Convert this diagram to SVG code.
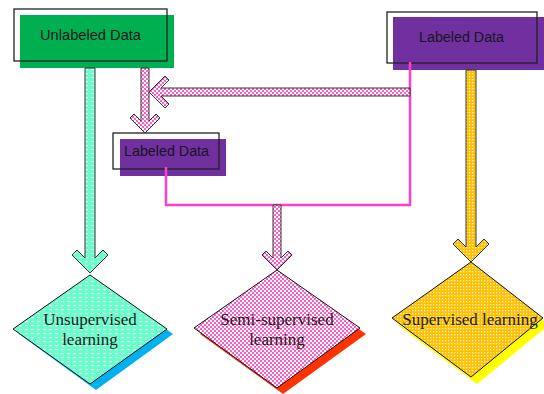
<svg xmlns="http://www.w3.org/2000/svg" width="544" height="394" viewBox="0 0 544 394">
<defs>
<pattern id="pAqua" width="6" height="4" patternUnits="userSpaceOnUse">
<rect width="6" height="4" fill="#66ffcc"/>
<rect x="1" y="1" width="3" height="1.2" fill="#e4efe8"/>
</pattern>
<pattern id="pPink" width="4" height="4" patternUnits="userSpaceOnUse">
<rect width="4" height="4" fill="#ffffff"/>
<rect width="2" height="2" fill="#ff5cc8"/>
<rect x="2" y="2" width="2" height="2" fill="#ff5cc8"/>
</pattern>
<pattern id="pOrange" width="3" height="3" patternUnits="userSpaceOnUse">
<rect width="3" height="3" fill="#ffc000"/>
<rect x="1" y="1" width="1.3" height="1.3" fill="#fff2cc"/>
</pattern>
</defs>
<style>
.box-out{fill:none;stroke:#222;stroke-width:1.3}
.lbl{font-family:"Liberation Sans",Arial,sans-serif;font-size:14px;fill:#1a1420;text-anchor:middle}
.dtxt{font-family:"Liberation Serif","Times New Roman",serif;font-size:17px;fill:#1a1a1a;text-anchor:middle}
.dia{stroke:#111;stroke-width:1}
.arr{stroke:#333;stroke-width:1;stroke-linejoin:miter}
.link{fill:none;stroke:#ff3fc8;stroke-width:2.5}
</style>

<g id="unlabeled-data">
<rect x="20" y="15" width="154" height="53" fill="#00b050"/>
<rect class="box-out" x="14" y="9" width="153" height="52"/>
<text class="lbl" x="90.5" y="40" textLength="101" lengthAdjust="spacingAndGlyphs">Unlabeled Data</text>
</g>

<g id="labeled-data-top">
<rect x="393" y="17" width="151" height="53" fill="#7030a0"/>
<rect class="box-out" x="387" y="12" width="150" height="51"/>
<text class="lbl" x="461.5" y="42" textLength="85" lengthAdjust="spacingAndGlyphs">Labeled Data</text>
</g>

<g id="labeled-data-mid">
<rect x="120" y="139" width="106" height="37" fill="#7030a0"/>
<rect class="box-out" x="113" y="133" width="106" height="36"/>
<text class="lbl" x="166.5" y="156" textLength="85" lengthAdjust="spacingAndGlyphs">Labeled Data</text>
</g>

<g id="unsupervised">
<polygon points="96,280 173,334 96,390 19,334" fill="#00b0f0"/>
<polygon class="dia" points="90,275 167,329 90,384 13,329" fill="url(#pAqua)"/>
<text class="dtxt" x="90" y="325">Unsupervised</text>
<text class="dtxt" x="90" y="345">learning</text>
</g>

<g id="semi-supervised">
<polygon points="283,276 366,334 283,394 200,334" fill="#ff3300"/>
<polygon class="dia" points="277,270 360,328 277,388 194,328" fill="url(#pPink)"/>
<text class="dtxt" x="277" y="325">Semi-supervised</text>
<text class="dtxt" x="277" y="345">learning</text>
</g>

<g id="supervised">
<polygon points="477,269 549,325 477,384 398,325" fill="#ffff00"/>
<polygon class="dia" points="471,262 543,318 471,377 392,318" fill="url(#pOrange)"/>
<text class="dtxt" x="470" y="325">Supervised learning</text>
</g>

<g id="connectors">
<path class="link" d="M410,62 V205 H166 V167"/>
<polygon class="arr" fill="url(#pAqua)" stroke="#666" points="85,68 95,68 95,258 103,250 108,255 90,273 72,255 77,250 85,258"/>
<polygon class="arr" fill="url(#pPink)" points="141,68 149,68 149,121 156,114 160,118 145,133 130,118 134,114 141,121"/>
<polygon class="arr" fill="url(#pPink)" points="410,88 410,96 161,96 169,104 165,108 149,92 165,76 169,80 161,88"/>
<polygon class="arr" fill="url(#pPink)" points="273,205 281,205 281,258 288,251 292,255 277,270 262,255 266,251 273,258"/>
<polygon class="arr" fill="url(#pOrange)" points="466,70 476,70 476,247 484,239 489,244 471,262 453,244 458,239 466,247"/>
</g>
</svg>
